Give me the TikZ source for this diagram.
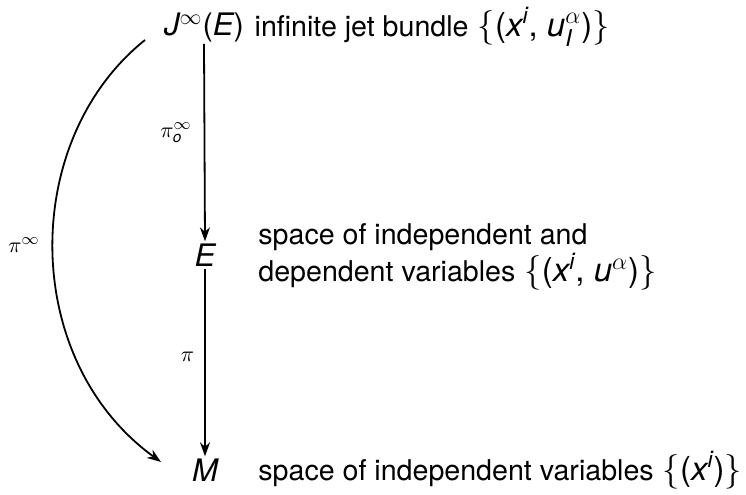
\documentclass[tikz,border=0pt]{standalone}
\usepackage{amsmath}
\usepackage{fontspec}
\setmainfont{TeX Gyre Heros}
\usetikzlibrary{arrows.meta}
\newcommand{\si}[1]{\text{\itshape #1}}
\newcommand{\tx}[1]{{\fontsize{14.3}{17.5}\selectfont #1}}
\begin{document}
\begin{tikzpicture}[x=0.5pt,y=-0.5pt,
  every node/.style={font=\fontsize{16.5}{17.5}\selectfont, inner sep=1pt},
  big/.style={font=\fontsize{15.5}{17.5}\selectfont},
  lab/.style={font=\fontsize{11}{13}\selectfont},
  arr/.style={-{Stealth[length=7pt,width=5pt]}, line width=0.9pt}]
\useasboundingbox (0,0) rectangle (746,494);
\node[big] (jinf) at (204,27) {\si{J}$^{\infty}$(\si{E})};
\node[anchor=west] (jtxt) at ([xshift=3pt]jinf.east) {\tx{infinite jet bundle} $\{$(\si{x}$^{\si{i}}$, \si{u}$^{\alpha}_{\si{I}}$)$\}$};
\node[big] (E) at (205,255) {\si{E}};
\node[anchor=west, align=left] (etxt) at (256,257) {\tx{space of independent and}\\\tx{dependent variables} $\{$(\si{x}$^{\si{i}}$, \si{u}$^{\alpha}$)$\}$};
\node[big] (M) at (205,470) {\si{M}};
\node[anchor=west] (mtxt) at (256,470) {\tx{space of independent variables} $\{$(\si{x}$^{\si{i}}$)$\}$};
\draw[arr] (jinf.south) -- node[lab, left=5pt, pos=0.45] {$\pi^{\infty}_{\si{o}}$} (E.north);
\draw[arr] (E.south) -- node[lab, left=4pt, pos=0.47] {$\pi$} (M.north);
\coordinate (cs) at (145,40);
\coordinate (ce) at (161,462);
\draw[arr] (cs) .. controls (20,140) and (20,360) .. (ce);
\node[lab] (pinf) at (24,245) {$\pi^{\infty}$};
\end{tikzpicture}
\end{document}
